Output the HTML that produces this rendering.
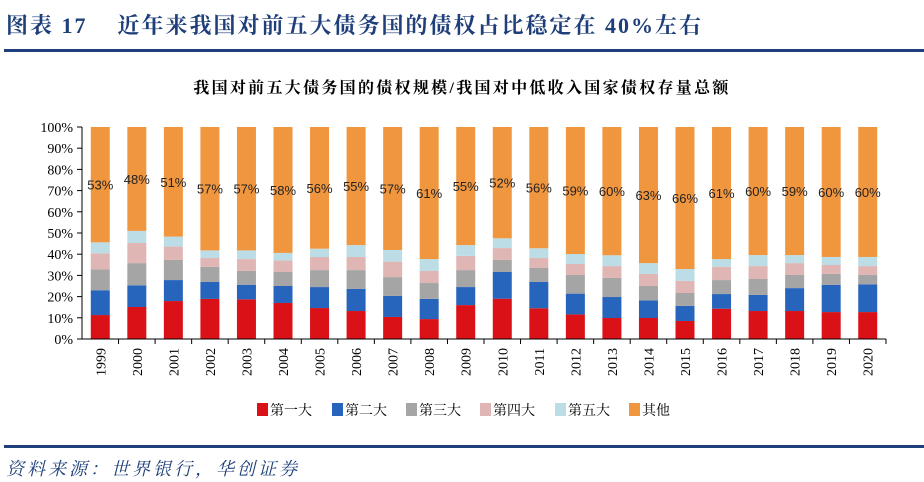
<!DOCTYPE html>
<html><head><meta charset="utf-8"><style>
body{margin:0;background:#fff;width:924px;height:482px;overflow:hidden;position:relative;font-family:"Liberation Serif","Noto Serif CJK SC",serif}
#title{position:absolute;left:6px;top:9px;font-size:22px;letter-spacing:2px;font-weight:bold;color:#1f3f7a;white-space:nowrap;font-family:"Liberation Serif","Noto Serif CJK SC",serif}
.rule{position:absolute;left:4px;width:920px;height:3px;background:#1f3f7a}
#src{position:absolute;left:6px;top:455px;font-size:18px;letter-spacing:3px;font-style:italic;color:#1f3f7a;white-space:nowrap;font-family:"Liberation Serif","Noto Serif CJK SC",serif}
</style></head><body>
<div id="title">图表&nbsp;17&nbsp;&nbsp;&nbsp;&nbsp;近年来我国对前五大债务国的债权占比稳定在 40%左右</div>
<div class="rule" style="top:49px"></div>
<svg id="chart" width="924" height="482" style="position:absolute;left:0;top:0"></svg>
<div class="rule" style="top:445px"></div>
<div id="src">资料来源：世界银行，华创证券</div>
<script>
const years=["1999","2000","2001","2002","2003","2004","2005","2006","2007","2008","2009","2010","2011","2012","2013","2014","2015","2016","2017","2018","2019","2020"];
const first=[11.3,15.1,17.9,18.9,18.7,17,14.6,13.2,10.4,9.4,16,19,14.5,11.6,9.9,9.9,8.5,14.3,13.2,13.2,12.7,12.7];
const second=[11.7,10.2,9.9,8,6.9,8,9.9,10.4,9.9,9.5,8.5,12.6,12.4,9.8,9.9,8.3,7.1,6.9,7.6,10.8,12.8,13.1];
const third=[9.9,10.5,9.5,7.1,6.5,6.6,8,8.9,8.9,7.5,8,5.7,6.6,8.8,9,6.8,6.1,6.6,7.5,6.2,5.2,4.4];
const fourth=[7.5,9.5,6.3,4.2,5.6,5.4,6.2,6.2,7.3,5.7,6.7,5.6,4.7,5.2,5.6,5.7,5.7,6.2,6.1,5.6,4.2,4.2];
const fifth=[5.2,5.7,4.7,3.6,4.1,3.6,3.9,5.6,5.5,5.6,5.1,4.6,4.6,4.7,5.1,5.1,5.6,3.7,5.2,3.8,3.8,4.3];
const otherLabels=["53%","48%","51%","57%","57%","58%","56%","55%","57%","61%","55%","52%","56%","59%","60%","63%","66%","61%","60%","59%","60%","60%"];
const yTicks=[0,10,20,30,40,50,60,70,80,90,100];
const seriesNames=["第一大","第二大","第三大","第四大","第五大","其他"];
const colors=["#da1217","#2764bc","#a5a5a5","#e0b6b4","#bcdde6","#f0963f"];
const NS="http://www.w3.org/2000/svg";
const svg=document.getElementById('chart');
const X0=82,X1=886,Y0=339,Y1=127;
const step=(X1-X0)/years.length, bw=19;
const xc=i=>X0+step*(i+0.5);
const y=v=>Y0-(v/100)*(Y0-Y1);
function mk(t,a){const e=document.createElementNS(NS,t);for(const k in a)e.setAttribute(k,a[k]);svg.appendChild(e);return e;}
let t=mk('text',{x:462,y:93,'text-anchor':'middle','font-size':16,'letter-spacing':2.3,'font-weight':'bold',fill:'#000','font-family':'"Liberation Serif","Noto Serif CJK SC",serif'});
t.textContent="我国对前五大债务国的债权规模/我国对中低收入国家债权存量总额";


const series=[first,second,third,fourth,fifth];
years.forEach((yr,i)=>{
  let base=0;
  series.forEach((s,k)=>{
    const r=mk('rect',{x:xc(i)-bw/2,y:y(base+s[i]),width:bw,height:y(base)-y(base+s[i]),fill:colors[k]});
    
    
    base+=s[i];
  });
  const r=mk('rect',{x:xc(i)-bw/2,y:y(100),width:bw,height:y(base)-y(100),fill:colors[5]});
  
  
  const l=mk('text',{x:xc(i),y:(y(base)+y(100))/2+5,'text-anchor':'middle','font-size':13,fill:'#222','font-family':'"Liberation Sans",sans-serif'});
  l.textContent=otherLabels[i];
  
  
  const yl=mk('text',{x:0,y:0,'text-anchor':'end','font-size':14,fill:'#000',transform:`translate(${xc(i)+5},348) rotate(-90)`});
  yl.textContent=yr;
  
  
  const tk=mk('line',{x1:X0+step*(i+1),x2:X0+step*(i+1),y1:Y0,y2:Y0+5,stroke:'#000'});
  
  
});
const ax=mk('line',{x1:X0,x2:X0,y1:Y1,y2:Y0,stroke:'#000'});


const bx=mk('line',{x1:X0,x2:X1,y1:Y0,y2:Y0,stroke:'#000'});


yTicks.forEach(v=>{
  const tl=mk('line',{x1:X0-5,x2:X0,y1:y(v),y2:y(v),stroke:'#000'});
  
  
  const tx=mk('text',{x:X0-9,y:y(v)+5,'text-anchor':'end','font-size':14,fill:'#000'});
  tx.textContent=v+'%';
  
  
});
const lx=[257,332,406,480,555,629];
seriesNames.forEach((n,k)=>{
  const sq=mk('rect',{x:lx[k],y:403,width:11,height:13,fill:colors[k]});
  
  
  const lt=mk('text',{x:lx[k]+13,y:415,'font-size':14,fill:'#000','font-family':'"Liberation Serif","Noto Serif CJK SC",serif'});
  lt.textContent=n;
  
  
});
</script>
</body></html>
